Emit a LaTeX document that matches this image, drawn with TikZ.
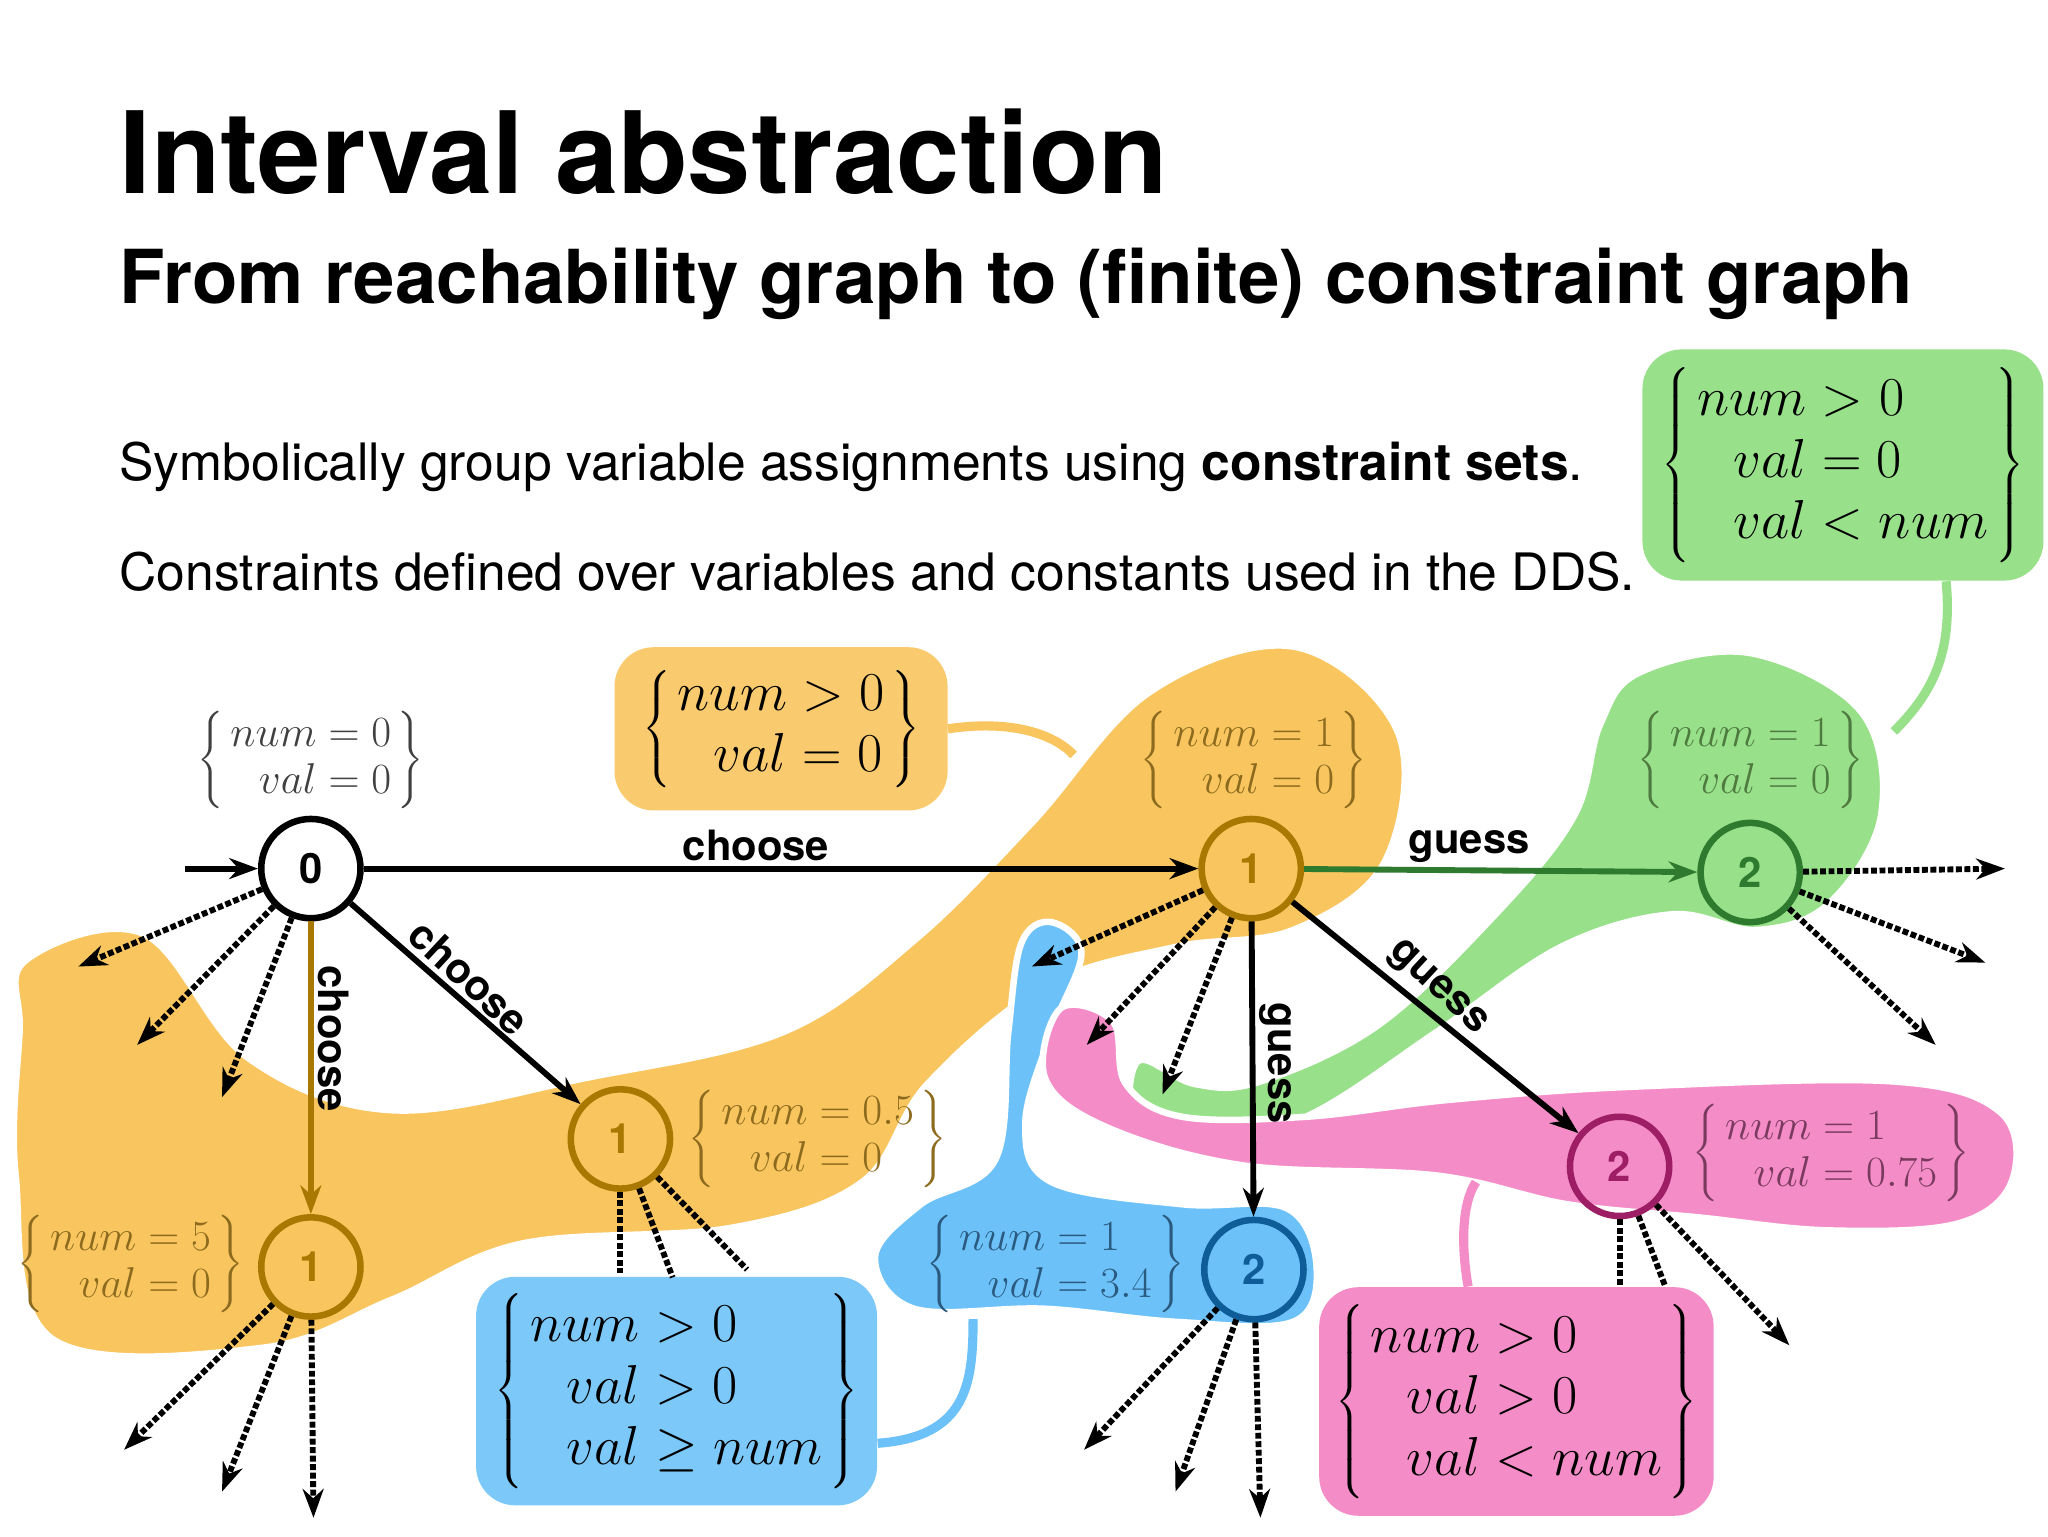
\RequirePackage{fix-cm}
\documentclass[tikz,border=0pt]{standalone}
\usepackage{fontspec}
\setmainfont{TeX Gyre Heros}
\usepackage{amsmath}
\usetikzlibrary{arrows.meta}
\definecolor{org}{HTML}{F9C55E}
\definecolor{orgd}{HTML}{A87800}
\definecolor{orgt}{HTML}{8C6A1E}
\definecolor{grn}{HTML}{98E08A}
\definecolor{grnd}{HTML}{2E7A2E}
\definecolor{grnt}{HTML}{4E7A40}
\definecolor{blu}{HTML}{6CC2F8}
\definecolor{blud}{HTML}{0E5C98}
\definecolor{blut}{HTML}{2A5A80}
\definecolor{pnk}{HTML}{F48CC8}
\definecolor{pnkd}{HTML}{9E1E66}
\definecolor{pnkt}{HTML}{7A3A5E}
\tikzset{
 st/.style={circle,minimum size=76pt,line width=5pt,font=\fontsize{32}{34}\selectfont\bfseries,inner sep=0},
 ed/.style={line width=4.5pt,-{Stealth[length=22pt,width=16pt]}},
 dt/.style={line width=4.5pt,dotted,-{Stealth[length=22pt,width=16pt]}},
 dl/.style={line width=4.5pt,dotted},
 lab/.style={font=\fontsize{32}{34}\selectfont\bfseries},
 cs/.style={font=\fontsize{33}{36}\selectfont},
 box/.style={rounded corners=30pt,inner sep=12pt,font=\fontsize{42}{47}\selectfont},
 blob/.style={draw=white,line width=5pt},
 tie/.style={line width=7pt}
}
\newcommand{\cset}[2]{$\left\{\begin{array}{r@{\;}l}num&#1\\ val&#2\end{array}\right\}$}
\newcommand{\csett}[3]{$\left\{\begin{array}{r@{\;}l}num&#1\\ val&#2\\ val&#3\end{array}\right\}$}
\begin{document}
\begin{tikzpicture}[x=1pt,y=-1pt]
\useasboundingbox[fill=white] (0,0) rectangle (1568,1176);
\node[anchor=base west,font=\fontsize{87}{90}\selectfont\bfseries] (t) at (88,148) {Interval abstraction};
\node[anchor=base west,font=\fontsize{57}{60}\selectfont\bfseries] (s) at (88,232) {From reachability graph to (finite) constraint graph};
\node[anchor=base west,font=\fontsize{39.5}{42}\selectfont] (p1) at (88,368) {Symbolically group variable assignments using \textbf{constraint sets}.};
\node[anchor=base west,font=\fontsize{39.5}{42}\selectfont] (p2) at (88,452) {Constraints defined over variables and constants used in the DDS.};
% blobs
\fill[org,blob] plot[smooth cycle,tension=0.6] coordinates{(20,735) (110,715) (190,810) (300,850) (450,825) (600,790) (700,720) (790,630) (880,530) (990,495) (1070,560) (1060,660) (990,712) (900,725) (800,755) (710,830) (660,905) (560,940) (400,952) (300,995) (200,1032) (40,1025) (12,900) (15,790)};
\fill[grn,blob] plot[smooth cycle,tension=0.6] coordinates{(1255,515) (1340,500) (1425,545) (1440,625) (1400,692) (1345,712) (1280,700) (1195,725) (1100,790) (1000,855) (905,882) (868,858) (872,812) (915,830) (965,828) (1055,785) (1145,700) (1205,625) (1225,555)};
\fill[blu,blob] plot[smooth cycle,tension=0.6] coordinates{(805,706) (828,730) (805,790) (785,860) (805,905) (905,922) (985,925) (1008,970) (990,1012) (900,1012) (800,1002) (700,1002) (670,962) (705,922) (762,888) (772,790) (782,722)};
\fill[pnk,blob] plot[smooth cycle,tension=0.6] coordinates{(812,772) (852,782) (862,830) (905,855) (1000,855) (1110,842) (1250,832) (1450,828) (1532,852) (1540,905) (1498,937) (1400,942) (1300,932) (1200,922) (1100,900) (950,892) (845,862) (800,825)};
% constraint boxes
\node[box,fill=org!90!white,minimum width=255pt,minimum height=125pt] (ob) at (598,558) {$\left\{\begin{array}{r@{\;}l}num&>0\\ val&=0\end{array}\right\}$};
\draw[tie,org] (ob.east) .. controls (780,550) and (810,565) .. (822,578);
\node[box,fill=grn,minimum width=307pt,minimum height=177pt] (gb) at (1411,356) {\csett{>0}{=0}{<num}};
\coordinate (gt) at (1450,560);
\draw[tie,grn] (1490,445) .. controls (1495,500) and (1480,530) .. (gt);
\node[box,fill=blu!90!white,minimum width=307pt,minimum height=175pt] (bb) at (518,1065) {\csett{>0}{>0}{\ge num}};
\coordinate (bt) at (745,1010);
\draw[tie,blu] (672,1105) .. controls (740,1100) and (745,1060) .. (bt);
\node[box,fill=pnk,minimum width=302pt,minimum height=175pt] (pb) at (1161,1073) {\csett{>0}{>0}{<num}};
\coordinate (pt) at (1130,905);
\draw[tie,pnk] (1124,985) .. controls (1118,950) and (1120,920) .. (pt);
% states
\node[st,draw=black,fill=white] (n0) at (238,665) {0};
\node[st,draw=orgd] (a1) at (958,665) {\textcolor{orgd}{1}};
\node[st,draw=orgd] (b1) at (475,872) {\textcolor{orgd}{1}};
\node[st,draw=orgd] (c1) at (238,970) {\textcolor{orgd}{1}};
\node[st,draw=grnd] (g2) at (1340,668) {\textcolor{grnd}{2}};
\node[st,draw=pnkd] (p2) at (1240,893) {\textcolor{pnkd}{2}};
\node[st,draw=blud] (bl2) at (960,972) {\textcolor{blud}{2}};
% state labels
\node[cs,text=black!75] (l0) at (238,582) {\cset{=0}{=0}};
\node[cs,text=orgt] (la) at (960,582) {\cset{=1}{=0}};
\node[cs,text=orgt] (lb) at (626,872) {\cset{=0.5}{=0}};
\node[cs,text=orgt] (lc) at (100,968) {\cset{=5}{=0}};
\node[cs,text=grnt] (lg) at (1340,582) {\cset{=1}{=0}};
\node[cs,text=pnkt] (lp) at (1402,883) {\cset{=1}{=0.75}};
\node[cs,text=blut] (ll) at (808,968) {\cset{=1}{=3.4}};
% entry
\coordinate (in) at (142,665);
\draw[ed] (in) -- (n0);
% solid edges
\draw[ed] (n0) -- node[lab,above,pos=0.47] {choose} (a1);
\draw[ed,orgd] (n0) -- node[lab,text=black,rotate=-90,pos=0.4,anchor=south] {choose} (c1);
\draw[ed] (n0) -- node[lab,rotate=-43,pos=0.45,anchor=south] {choose} (b1);
\draw[ed,grnd] (a1) -- node[lab,text=black,above,pos=0.42] {guess} (g2);
\draw[ed] (a1) -- node[lab,rotate=-90,anchor=south,pos=0.48] {guess} (bl2);
\draw[ed] (a1) -- node[lab,rotate=-43,anchor=south,pos=0.45] {guess} (p2);
% dotted edges
\foreach \n/\x/\y/\s in {n0/60/740/e1,n0/105/800/e2,n0/170/840/e3,
 c1/95/1110/f1,c1/170/1142/f2,c1/240/1162/f3,
 a1/790/740/h1,a1/832/800/h2,a1/890/838/h3,
 g2/1535/665/i1,g2/1520/737/i2,g2/1482/800/i3,
 p2/1370/1030/j1,
 bl2/830/1110/k1,bl2/900/1142/k2,bl2/965/1162/k3}{
 \coordinate (\s) at (\x,\y);
 \draw[dt] (\n) -- (\s);
}
\foreach \n/\x/\y/\s in {b1/475/975/m1,b1/515/978/m2,b1/572/972/m3,p2/1240/985/q1,p2/1275/985/q2}{
 \coordinate (\s) at (\x,\y);
 \draw[dl] (\n) -- (\s);
}
\end{tikzpicture}
\end{document}
